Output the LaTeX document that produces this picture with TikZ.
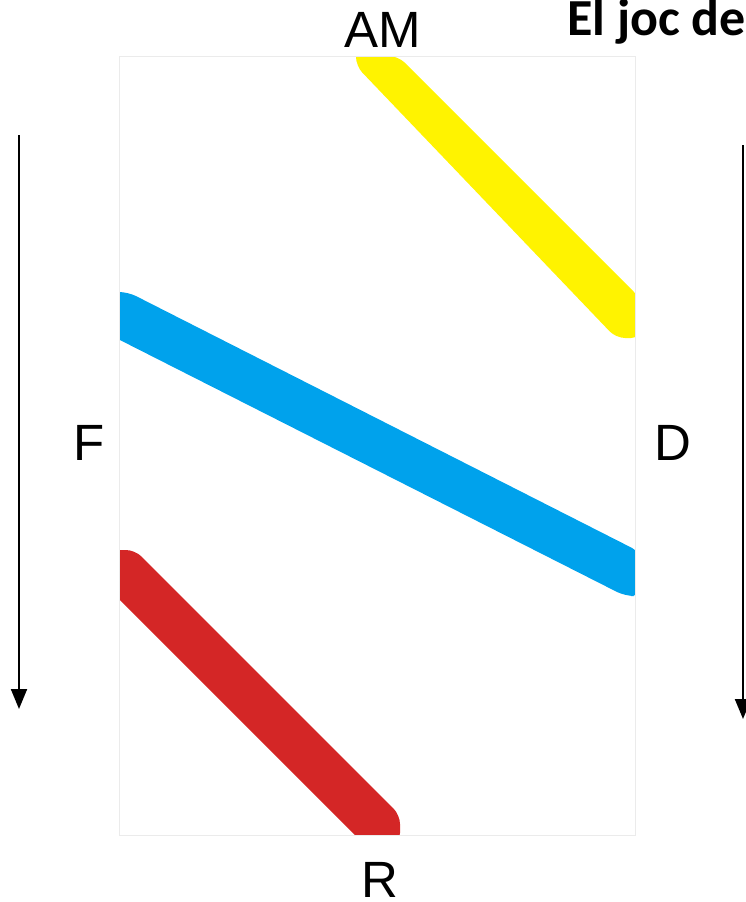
\documentclass[tikz,border=0pt]{standalone}
\usepackage{fontspec}
\setmainfont{Liberation Sans}
\newfontfamily\calib{Carlito}
\usetikzlibrary{arrows.meta}
\definecolor{bandyellow}{RGB}{255,243,0}
\definecolor{bandblue}{RGB}{0,162,236}
\definecolor{bandred}{RGB}{212,38,38}
\begin{document}
\begin{tikzpicture}[x=1pt,y=-1pt,
  lbl/.style={font=\fontsize{51}{54}\selectfont, inner sep=0pt},
  band/.style={rounded corners=9pt},
  flow/.style={line width=2pt,-{Triangle[length=20pt,width=16pt]}}]
\useasboundingbox (0,0) rectangle (745,902);
\begin{scope}
\clip (119,56) rectangle (635,835);
\fill[bandyellow,band] (356,50) -- (356,56) -- (398,56) -- (640,298) -- (640,338) -- (616,338) -- (356,66) -- cycle;
\fill[bandblue,band] (112,336) -- (112,292) -- (128,292) -- (640,552) -- (640,596) -- (625,596) -- cycle;
\fill[bandred,band] (112,592) -- (112,550) -- (135,550) -- (400,815) -- (400,842) -- (362,842) -- cycle;
\end{scope}
\draw[black!8, line width=1pt] (119,56) rectangle (635,835);
\node[lbl] (am) at (383,30) {AM};
\node[lbl] (f) at (89,443) {F};
\node[lbl] (d) at (673,443) {D};
\node[lbl] (r) at (380,880) {R};
\node[anchor=base west, inner sep=0pt, font=\calib\bfseries\fontsize{52}{56}\selectfont] (title) at (567,35) {El joc de};
\coordinate (la) at (19,135);
\coordinate (lb) at (19,709);
\coordinate (ra) at (743,145);
\coordinate (rb) at (743,719);
\draw[flow] (la) -- (lb);
\draw[flow] (ra) -- (rb);
\end{tikzpicture}
\end{document}
